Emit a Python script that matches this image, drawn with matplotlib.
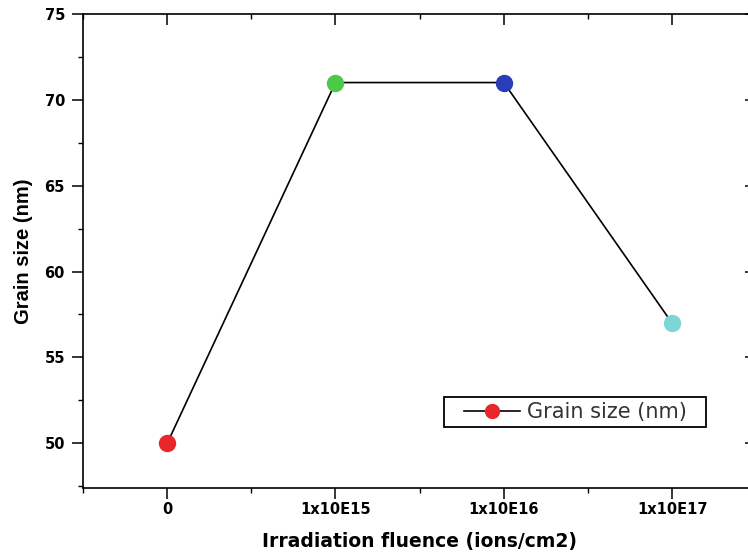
import numpy as np
import matplotlib.pyplot as plt
from matplotlib.lines import Line2D
from matplotlib.legend_handler import HandlerLine2D
from matplotlib.ticker import MultipleLocator

# irradiation fluence levels and measured grain size
fluence = ['0', '1x10E15', '1x10E16', '1x10E17']
grain_size = [50, 71, 71, 57]
point_colors = ['#e8262b', '#4cc84a', '#2a3cb8', '#7ed6d4']

plt.rcParams['font.family'] = ['DejaVu Sans']


class PaddedLineHandler(HandlerLine2D):
    """Legend line drawn only over the right part of the handle box."""
    def create_artists(self, legend, orig_handle, xdescent, ydescent,
                       width, height, fontsize, trans):
        shift = 0.2 * width
        return super().create_artists(legend, orig_handle, xdescent - shift,
                                      ydescent, width - shift, height,
                                      fontsize, trans)


fig = plt.figure(figsize=(7.48, 5.53), dpi=100)
# right spine sits just past the figure edge
ax = fig.add_axes([0.111, 0.1175, 0.9, 0.8575])

x = np.arange(len(fluence))
ax.plot(x, grain_size, color='black', lw=1.2, zorder=2)
for xi, yi, c in zip(x, grain_size, point_colors):
    ax.plot(xi, yi, marker='o', ms=11.5, color=c, mec=c, zorder=3)

ax.set_xlim(-0.5, 3.5)
ax.set_ylim(47.4, 75)
ax.set_xticks(x)
ax.set_xticklabels(fluence)
ax.xaxis.set_minor_locator(MultipleLocator(0.5))
ax.yaxis.set_major_locator(MultipleLocator(5))
ax.yaxis.set_minor_locator(MultipleLocator(2.5))

ax.tick_params(axis='both', which='major', length=8, width=1.1, labelsize=10.5)
ax.tick_params(axis='both', which='minor', length=3.8, width=1.0)
ax.tick_params(axis='x', which='both', top=True, pad=2)
ax.tick_params(axis='y', which='both', right=True, pad=5)
for lbl in ax.get_xticklabels() + ax.get_yticklabels():
    lbl.set_fontweight('bold')
# top and right ticks point inward
for t in ax.xaxis.get_major_ticks() + ax.xaxis.get_minor_ticks():
    t.tick2line.set_marker(3)
for t in ax.yaxis.get_major_ticks() + ax.yaxis.get_minor_ticks():
    t.tick2line.set_marker(0)

for s in ax.spines.values():
    s.set_linewidth(1.2)

ax.set_xlabel('Irradiation fluence (ions/cm2)', fontsize=13.5, fontweight='bold')
ax.xaxis.set_label_coords(0.5, -0.093)
ax.set_ylabel('Grain size (nm)', fontsize=14.5, fontweight='bold', labelpad=8,
              family='Liberation Sans')

handle = Line2D([], [], color='black', lw=1.2, marker='o', ms=10,
                mfc=point_colors[0], mec=point_colors[0])
leg = ax.legend([handle], ['Grain size (nm)'], loc='lower left', mode='expand',
                bbox_to_anchor=(0.5364, 0.1284, 0.3893, 0.061), borderaxespad=0,
                fancybox=False, framealpha=1, edgecolor='black',
                prop={'size': 15}, handlelength=3.4, handletextpad=0.35,
                borderpad=0.25, handler_map={Line2D: PaddedLineHandler()})
leg.get_frame().set_linewidth(1.3)
for t in leg.get_texts():
    t.set_color('#333333')

fig.savefig('out.png', dpi=100)
